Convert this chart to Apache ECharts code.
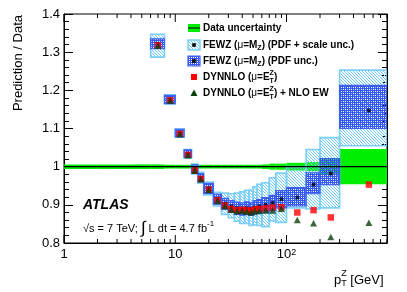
<!DOCTYPE html>
<html><head><meta charset="utf-8">
<script src="https://cdn.jsdelivr.net/npm/echarts@6/dist/echarts.min.js"></script>
<style>html,body{margin:0;padding:0;background:#fff}#c{width:407px;height:292px}</style>
</head><body><div id="c"></div>
<script>
// ---- data ----
const binEdges = [6,8,10,12,14,16,18,22,26,30,34,38,42,46,50,54,60,70,80,100,150,200,300,800];
const binCenters = [7,9,11,13,15,17,20,24,28,32,36,40,44,48,52,57,65,75,90,125,175,250,550];
const fewz   = [1.322,1.176,1.088,1.034,0.994,0.971,0.943,0.915,0.903,0.896,0.891,0.889,0.891,0.889,0.893,0.896,0.900,0.905,0.915,0.919,0.953,0.982,1.147];
const fewzTotUp = [0.025,0.012,0.011,0.011,0.013,0.014,0.017,0.018,0.028,0.033,0.040,0.045,0.047,0.050,0.054,0.058,0.058,0.066,0.068,0.081,0.092,0.094,0.106];
const fewzTotDn = [0.035,0.012,0.011,0.011,0.013,0.014,0.017,0.018,0.028,0.030,0.034,0.038,0.040,0.043,0.046,0.050,0.057,0.047,0.061,0.027,0.064,0.090,0.092];
const fewzPdfUp = [0.013,0.011,0.010,0.010,0.011,0.011,0.013,0.013,0.014,0.015,0.016,0.016,0.017,0.017,0.018,0.018,0.019,0.020,0.022,0.026,0.031,0.039,0.066];
const fewzPdfDn = [0.013,0.011,0.010,0.010,0.011,0.011,0.013,0.013,0.014,0.015,0.016,0.016,0.017,0.017,0.018,0.018,0.019,0.020,0.023,0.022,0.024,0.029,0.047];
const dynnlo   = [1.318,1.174,1.086,1.031,0.990,0.968,0.940,0.912,0.898,0.889,0.886,0.887,0.886,0.884,0.888,0.889,0.891,0.893,0.894,0.880,0.886,0.867,0.953];
const dynnloEW = [1.317,1.173,1.085,1.030,0.989,0.967,0.939,0.910,0.896,0.887,0.883,0.884,0.882,0.880,0.884,0.884,0.885,0.885,0.890,0.860,0.852,0.816,0.853];
const dataEdges = [1,2,4,6,8,10,12,14,16,18,22,26,30,34,38,42,46,50,54,60,70,80,100,150,200,300,800];
const dataErr   = [0.006,0.006,0.006,0.006,0.005,0.005,0.005,0.005,0.005,0.005,0.005,0.005,0.005,0.005,0.005,0.005,0.005,0.005,0.005,0.006,0.008,0.008,0.010,0.012,0.020,0.046];
const xTickValues = [1,2,3,4,5,6,7,8,9,10,20,30,40,50,60,70,80,90,100,200,300,400,500,600,700,800];
const xMin = 1, xMax = 800, yMin = 0.8, yMax = 1.4;
const legendLabels = ['Data uncertainty','FEWZ','FEWZ','DYNNLO','DYNNLO'];

// ---- helpers ----
const FF = '"Liberation Sans", Arial, Helvetica, sans-serif';
function mkPattern(size, draw){ const c=document.createElement('canvas'); c.width=c.height=size; const g=c.getContext('2d'); draw(g); return {image:c, repeat:'repeat'}; }
const hatch = mkPattern(3, g=>{ g.fillStyle='#6ec9f5'; for(let i=0;i<3;i++) g.fillRect(i,i,1,1); });
const dots  = mkPattern(2, g=>{ g.fillStyle='#3658f0'; g.fillRect(0,0,2,1); g.fillRect(0,1,1,1); });
const lightStroke = '#7ccffa', darkStroke = '#4060f4';
const mctx = document.createElement('canvas').getContext('2d');
function tw(t,f){ mctx.font=f; return mctx.measureText(t).width; }
function layout(x,y,segs,fill){
  const out=[]; let cx=x;
  for(const s of segs){
    if(s.stack){ let w=0; for(const t of s.stack){ out.push({type:'text',silent:true,z:100,style:{text:t.t,x:cx,y:y+(t.dy||0),font:t.f,fill:fill||'#000',verticalAlign:'middle',align:'left'}}); w=Math.max(w,tw(t.t,t.f)); } cx+=w; }
    else { out.push({type:'text',silent:true,z:100,style:{text:s.t,x:cx,y:y+(s.dy||0),font:s.f,fill:fill||'#000',verticalAlign:'middle',align:'left'}}); cx+=tw(s.t,s.f); }
  }
  return out;
}
function boxRender(fill, stroke, lw){
  return function(params, api){
    const p0 = api.coord([api.value(0), api.value(3)]);
    const p1 = api.coord([api.value(1), api.value(2)]);
    return {type:'rect', shape:{x:p0[0], y:p0[1], width:p1[0]-p0[0], height:p1[1]-p0[1]}, style:{fill:fill, stroke:stroke, lineWidth:lw}};
  };
}

const totBoxes = binCenters.map((c,i)=>[binEdges[i],binEdges[i+1],fewz[i]-fewzTotDn[i],fewz[i]+fewzTotUp[i]]);
const pdfBoxes = binCenters.map((c,i)=>[binEdges[i],binEdges[i+1],fewz[i]-fewzPdfDn[i],fewz[i]+fewzPdfUp[i]]);
const dataBand = dataErr.map((e,i)=>[dataEdges[i],dataEdges[i+1],1-e,1+e]);

const B10 = 'bold 10px '+FF, R10 = '10px '+FF, B7 = 'bold 7px '+FF;
const gfx = [];
// legend icons
gfx.push({type:'rect',silent:true,z:100,shape:{x:188,y:24,width:12,height:8},style:{fill:'#00ee00'}});
gfx.push({type:'line',silent:true,z:101,shape:{x1:188,y1:28,x2:200,y2:28},style:{stroke:'#000',lineWidth:1}});
gfx.push({type:'rect',silent:true,z:100,shape:{x:188,y:40,width:12,height:10},style:{fill:hatch,stroke:lightStroke,lineWidth:1.5}});
gfx.push({type:'rect',silent:true,z:101,shape:{x:192.2,y:43.2,width:3.6,height:3.6},style:{fill:'#000'}});
gfx.push({type:'rect',silent:true,z:100,shape:{x:188,y:56,width:12,height:10},style:{fill:dots,stroke:darkStroke,lineWidth:1.2}});
gfx.push({type:'rect',silent:true,z:101,shape:{x:192.2,y:59.2,width:3.6,height:3.6},style:{fill:'#000'}});
gfx.push({type:'rect',silent:true,z:100,shape:{x:191,y:74,width:6,height:6},style:{fill:'#ff0000'}});
gfx.push({type:'polygon',silent:true,z:100,shape:{points:[[194,89.5],[197.5,96],[190.5,96]]},style:{fill:'#0b3f0b'}});
// legend text
gfx.push(...layout(203,28,[{t:legendLabels[0],f:B10}]));
gfx.push(...layout(203,45,[{t:legendLabels[1]+' (',f:B10},{t:'μ',f:R10},{t:'=M',f:B10},{t:'Z',f:B7,dy:3},{t:') (PDF + scale unc.)',f:B10}]));
gfx.push(...layout(203,61,[{t:legendLabels[2]+' (',f:B10},{t:'μ',f:R10},{t:'=M',f:B10},{t:'Z',f:B7,dy:3},{t:') (PDF unc.)',f:B10}]));
gfx.push(...layout(203,77,[{t:legendLabels[3]+' (',f:B10},{t:'μ',f:R10},{t:'=E',f:B10},{stack:[{t:'Z',f:B7,dy:-4},{t:'T',f:B7,dy:4}]},{t:')',f:B10}]));
gfx.push(...layout(203,93,[{t:legendLabels[4]+' (',f:B10},{t:'μ',f:R10},{t:'=E',f:B10},{stack:[{t:'Z',f:B7,dy:-4},{t:'T',f:B7,dy:4}]},{t:') + NLO EW',f:B10}]));
// ATLAS + lumi
gfx.push({type:'text',silent:true,z:100,style:{text:'ATLAS',x:83,y:205,font:'italic bold 14px '+FF,fill:'#000',verticalAlign:'middle'}});
gfx.push(...layout(83,229,[{t:'√s = 7 TeV; ',f:'11px '+FF},{t:'∫',f:'17px '+FF,dy:-1},{t:' L dt = 4.7 fb',f:'11px '+FF},{t:'-1',f:'8px '+FF,dy:-5}]));
// axis titles
gfx.push({type:'text',silent:true,z:100,rotation:Math.PI/2,x:18,y:15,style:{text:'Prediction / Data',x:0,y:0,font:'13px '+FF,fill:'#000',align:'right',verticalAlign:'middle'}});
gfx.push(...layout(334,280,[{t:'p',f:'13px '+FF},{stack:[{t:'Z',f:'9px '+FF,dy:-6},{t:'T',f:'9px '+FF,dy:4}]},{t:' [GeV]',f:'13px '+FF}]));

const chart = echarts.init(document.getElementById('c'));
chart.setOption({
  animation:false,
  backgroundColor:'#fff',
  grid:{left:64,right:20,top:14,bottom:49,show:true,borderColor:'#000',borderWidth:1,backgroundColor:'transparent'},
  xAxis:[{type:'log',logBase:10,min:xMin,max:xMax,
    axisLine:{show:true,lineStyle:{color:'#000',width:1}},
    axisTick:{show:false},splitLine:{show:false},
    axisLabel:{show:true,color:'#000',fontFamily:FF,fontSize:13,margin:5,showMaxLabel:false,
      formatter:function(v){const l=Math.round(Math.log10(v)*1000)/1000; if(l===0)return '1'; if(l===1)return '10'; if(l===2)return '10{s|2}'; return '';},
      rich:{s:{fontSize:9,fontFamily:FF,color:'#000',verticalAlign:'top'}}}}],
  yAxis:[{type:'value',min:yMin,max:yMax,interval:0.1,position:'left',
      axisLine:{show:true,lineStyle:{color:'#000',width:1}},
      axisTick:{show:true,inside:true,length:9,lineStyle:{color:'#000'}},
      minorTick:{show:true,splitNumber:5,length:5,lineStyle:{color:'#000'}},
      splitLine:{show:false},
      axisLabel:{color:'#000',fontFamily:FF,fontSize:13,margin:4,formatter:v=>String(Math.round(v*10)/10)}},
    {type:'value',min:yMin,max:yMax,interval:0.1,position:'right',
      axisLine:{show:true,lineStyle:{color:'#000',width:1}},
      axisTick:{show:true,inside:true,length:9,lineStyle:{color:'#000'}},
      minorTick:{show:true,splitNumber:5,length:5,lineStyle:{color:'#000'}},
      splitLine:{show:false},axisLabel:{show:false}}],
  graphic:gfx,
  series:[
    {type:'custom',name:'Data uncertainty',renderItem:boxRender('#00ee00',null,0),data:dataBand,encode:{x:[0,1],y:[2,3]},clip:true,silent:true},
    {type:'custom',name:'FEWZ tot',renderItem:boxRender(hatch,lightStroke,1.6),data:totBoxes,encode:{x:[0,1],y:[2,3]},clip:true,silent:true},
    {type:'custom',name:'FEWZ pdf',renderItem:boxRender(dots,darkStroke,1.2),data:pdfBoxes,encode:{x:[0,1],y:[2,3]},clip:true,silent:true},
    {type:'line',data:[[xMin,1],[xMax,1]],symbol:'none',lineStyle:{color:'#000',width:1.2},silent:true},
    {type:'scatter',data:binCenters.map((c,i)=>[c,fewz[i]]),symbol:'rect',symbolSize:3.6,itemStyle:{color:'#000'},silent:true},
    {type:'scatter',data:binCenters.map((c,i)=>[c,dynnlo[i]]),symbol:'rect',symbolSize:6.5,itemStyle:{color:'#ff0000'},silent:true},
    {type:'scatter',data:binCenters.map((c,i)=>[c,dynnloEW[i]]),symbol:'triangle',symbolSize:[7,6.5],itemStyle:{color:'#0b3f0b'},silent:true},
    {type:'custom',name:'xticks',silent:true,clip:false,data:xTickValues.map(v=>[v,1]),
      renderItem:function(params,api){
        const v=api.value(0); const major=Math.abs(Math.log10(v)-Math.round(Math.log10(v)))<1e-6; const len=major?8:4;
        const b=api.coord([v,yMin]), t=api.coord([v,yMax]);
        return {type:'group',children:[
          {type:'line',shape:{x1:b[0],y1:b[1],x2:b[0],y2:b[1]-len},style:{stroke:'#000',lineWidth:1}},
          {type:'line',shape:{x1:t[0],y1:t[1],x2:t[0],y2:t[1]+len},style:{stroke:'#000',lineWidth:1}}]};
      }}
  ]
});
</script></body></html>
